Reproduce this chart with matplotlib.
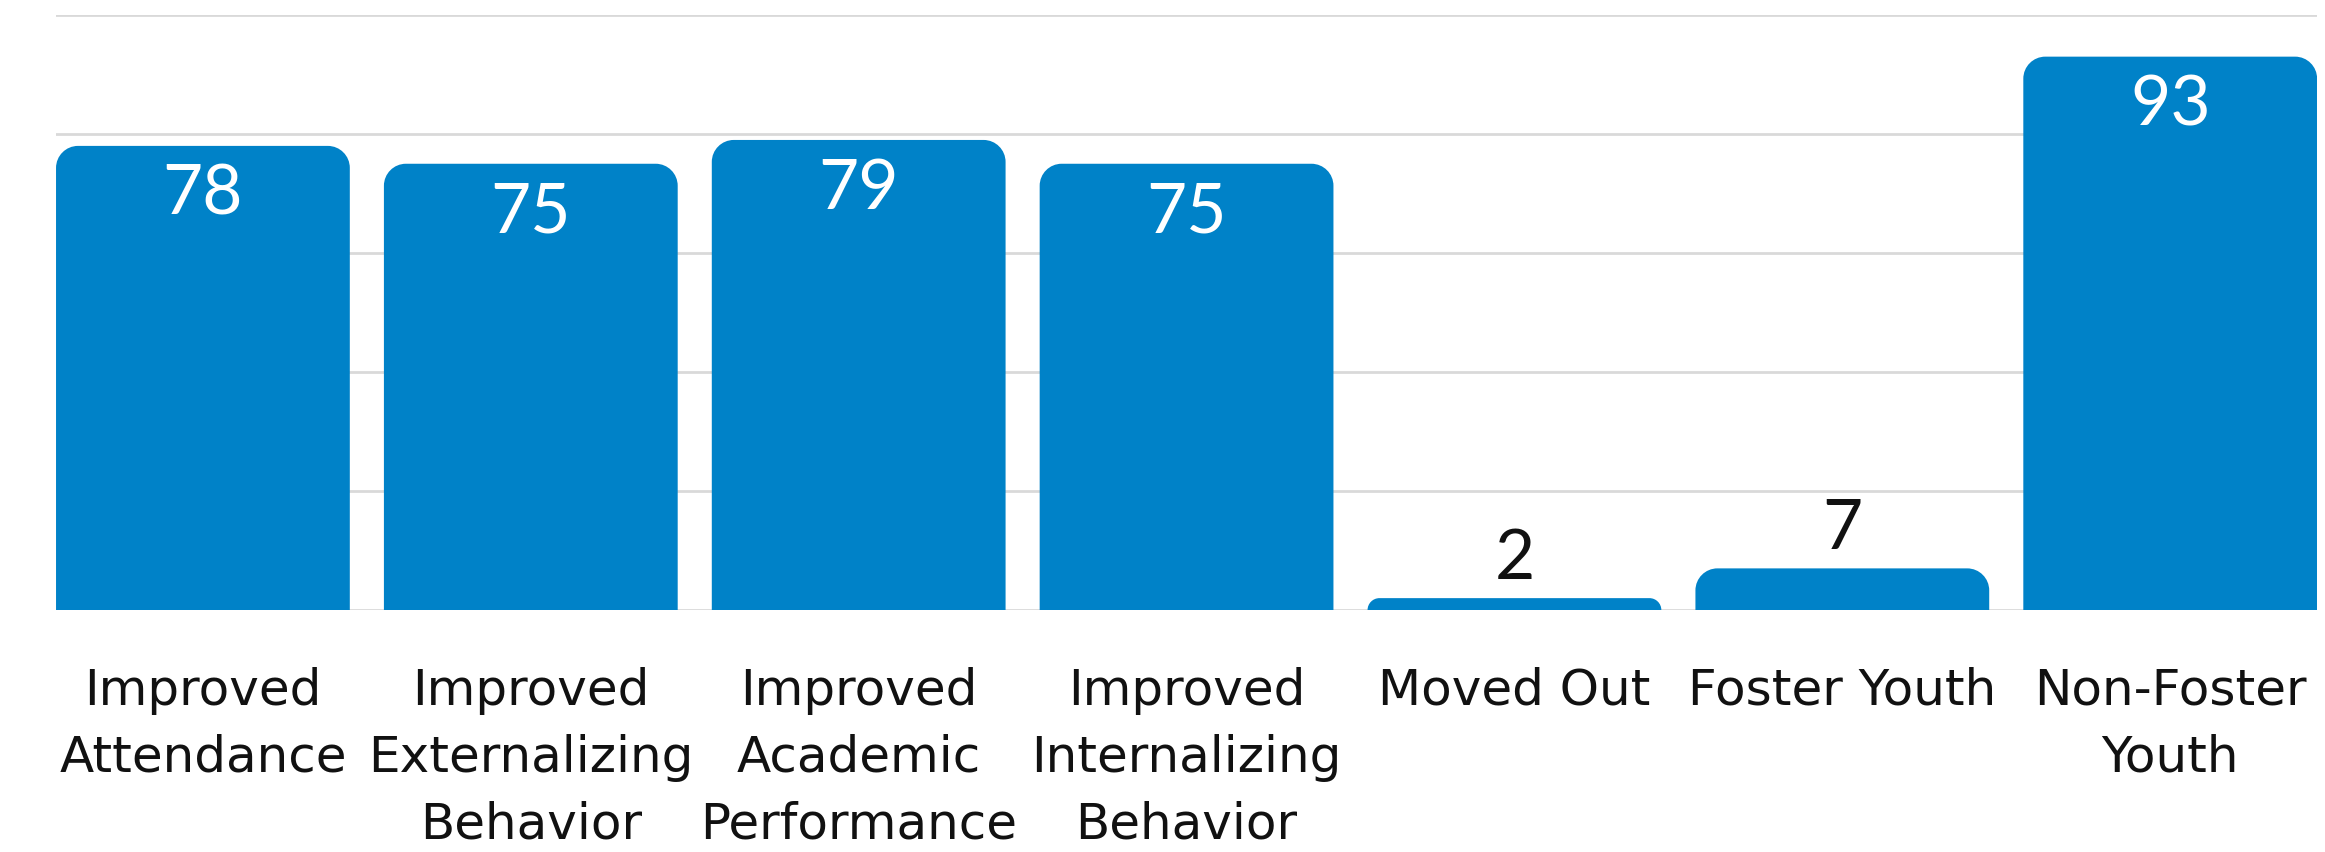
import matplotlib.pyplot as plt
from matplotlib.patches import PathPatch
from matplotlib.path import Path

# chart data
categories = ['Improved\nAttendance', 'Improved\nExternalizing\nBehavior',
              'Improved\nAcademic\nPerformance', 'Improved\nInternalizing\nBehavior',
              'Moved Out', 'Foster Youth', 'Non-Foster\nYouth']
values = [78, 75, 79, 75, 2, 7, 93]
grid_ticks = [0, 20, 40, 60, 80, 100]

bar_color = '#0082C8'
width = 0.896

fig = plt.figure(figsize=(23.25, 8.52), dpi=100)
ax = fig.add_axes([0.0241, 0.284, 0.9725, 0.6984])

x = list(range(len(values)))
bars = ax.bar(x, values, width=width, color=bar_color, zorder=2)

ax.set_xlim(-width / 2, len(values) - 1 + width / 2)
ax.set_ylim(0, 100)
ax.set_yticks(grid_ticks)
ax.yaxis.grid(True, color='#d9d9d9', linewidth=2, zorder=0)
ax.tick_params(axis='y', length=0, labelleft=False)
for s in ax.spines.values():
    s.set_visible(False)

ax.set_xticks(x)
ax.set_xticklabels(categories, fontsize=36, color='#111111', linespacing=1.5)
ax.tick_params(axis='x', length=0, pad=41)


def rounded_top(x0, w, h, rx, ry):
    # bar outline with rounded top corners, k = bezier circle constant
    k = 0.5523
    x1 = x0 + w
    verts = [(x0, 0), (x0, h - ry),
             (x0, h - ry + k * ry), (x0 + rx - k * rx, h), (x0 + rx, h),
             (x1 - rx, h),
             (x1 - rx + k * rx, h), (x1, h - ry + k * ry), (x1, h - ry),
             (x1, 0), (x0, 0)]
    codes = [Path.MOVETO, Path.LINETO,
             Path.CURVE4, Path.CURVE4, Path.CURVE4,
             Path.LINETO,
             Path.CURVE4, Path.CURVE4, Path.CURVE4,
             Path.LINETO, Path.CLOSEPOLY]
    return Path(verts, codes)


# swap plain bars for bars with rounded top corners
bbox = ax.get_window_extent(fig.canvas.get_renderer())
ux = (ax.get_xlim()[1] - ax.get_xlim()[0]) / bbox.width
uy = (ax.get_ylim()[1] - ax.get_ylim()[0]) / bbox.height
r_px = 22
for b in bars:
    b.set_visible(False)
    bx, bw, bh = b.get_x(), b.get_width(), b.get_height()
    rp = min(r_px, bh / uy)
    ax.add_patch(PathPatch(rounded_top(bx, bw, bh, rp * ux, rp * uy),
                           facecolor=bar_color, edgecolor='none', zorder=2))

# value labels
for xi, v in zip(x, values):
    if v > 20:
        ax.annotate(str(v), (xi, v), xytext=(0, -13), textcoords='offset points',
                    ha='center', va='top', fontsize=50, color='white',
                    family='Lato', zorder=3)
    else:
        ax.annotate(str(v), (xi, v), xytext=(0, 5), textcoords='offset points',
                    ha='center', va='bottom', fontsize=50, color='#111111',
                    family='Lato', zorder=3)

fig.savefig('out.png', dpi=100)
